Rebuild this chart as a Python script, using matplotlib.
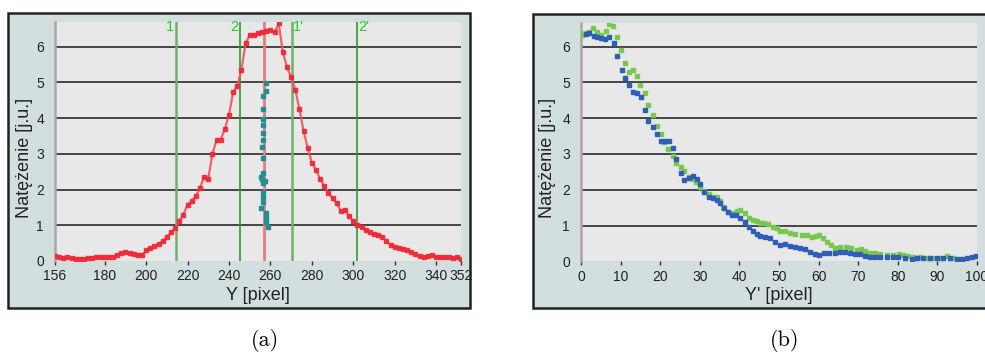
import matplotlib.pyplot as plt
from matplotlib.patches import Rectangle

# panel (a): red profile, read every 2 px
prof_x = list(range(156, 353, 2))
prof_y = [0.15, 0.12, 0.08, 0.10, 0.08, 0.06, 0.05, 0.06, 0.08, 0.08,
          0.10, 0.12, 0.12, 0.10, 0.12, 0.16, 0.22, 0.24, 0.22, 0.20,
          0.17, 0.16, 0.30, 0.36, 0.42, 0.47, 0.55, 0.68, 0.80, 0.92,
          1.12, 1.30, 1.58, 1.68, 1.82, 2.05, 2.36, 2.30, 3.00, 3.38,
          3.40, 3.70, 4.10, 4.72, 4.90, 5.35, 6.10, 6.32, 6.34, 6.37,
          6.40, 6.45, 6.47, 6.40, 6.65, 5.85, 5.42, 5.15, 4.80, 4.25,
          3.65, 3.16, 2.75, 2.55, 2.30, 2.10, 1.90, 1.75, 1.62, 1.40,
          1.43, 1.25, 1.12, 1.02, 0.95, 0.86, 0.80, 0.76, 0.72, 0.67,
          0.55, 0.45, 0.40, 0.36, 0.33, 0.30, 0.24, 0.20, 0.14, 0.10,
          0.14, 0.16, 0.11, 0.10, 0.10, 0.10, 0.09, 0.10, 0.05]

# teal points near the centre line
teal_x = [257.9, 257.8, 256.6, 256.6, 256.6, 256.6, 256.6, 256.3, 255.9, 256.3,
          256.6, 255.6, 255.7, 257.2, 256.3, 256.3, 256.6, 256.3, 255.6, 257.9,
          257.9, 257.9, 259.0]
teal_y = [4.98, 4.77, 4.63, 4.25, 3.98, 3.81, 3.58, 3.39, 3.20, 2.88,
          2.46, 2.36, 2.30, 2.25, 2.18, 1.94, 1.80, 1.66, 1.48, 1.34,
          1.20, 1.10, 0.94]

mark_pos = [214.5, 245.5, 270.5, 302]
mark_lbl = ["1", "2", "1'", "2'"]
center_pos = 257

xticks_a = [156, 180, 200, 220, 240, 260, 280, 300, 320, 340, 352]

# panel (b)
green_x = [0.2, 1.0, 2.0, 3.0, 4.1, 5.05, 6.2, 7.1, 8.0, 9.1, 10.0, 11.1, 12.0,
           13.2, 14.1, 15.0, 16.2, 17.0, 18.3, 19.1, 20.2, 21.0, 21.9, 23.2,
           24.0, 25.3, 26.1, 27.2, 28.2, 29.0, 30.1, 31.1, 32.3, 33.3, 34.3,
           35.1, 35.9, 37.2, 38.1, 39.3, 40.2, 41.4, 42.5, 43.5, 44.4, 45.3,
           46.2, 47.3, 48.6, 49.4, 50.3, 51.5, 52.8, 54.0, 55.7, 57.0, 58.3,
           59.3, 60.2, 61.0, 62.0, 63.1, 64.1, 65.4, 66.9, 68.2, 69.6, 70.6,
           71.7, 73.0, 74.2, 75.5, 77.2, 78.9, 80.4, 81.4, 82.7, 83.9, 85.6,
           87.3, 89.0, 90.7, 92.3, 94.0, 95.7]
green_y = [6.32, 6.37, 6.41, 6.51, 6.41, 6.32, 6.44, 6.62, 6.57, 6.26, 5.90,
           5.55, 5.28, 5.34, 5.18, 4.92, 4.69, 4.37, 4.09, 3.79, 3.56, 3.33,
           3.13, 2.94, 2.75, 2.64, 2.52, 2.36, 2.30, 2.23, 2.07, 1.96, 1.87,
           1.79, 1.80, 1.68, 1.51, 1.39, 1.34, 1.41, 1.42, 1.34, 1.21, 1.16,
           1.12, 1.06, 1.06, 1.04, 0.97, 0.92, 0.85, 0.85, 0.80, 0.76, 0.73,
           0.73, 0.69, 0.71, 0.73, 0.64, 0.55, 0.46, 0.38, 0.39, 0.39, 0.36,
           0.32, 0.33, 0.30, 0.24, 0.22, 0.20, 0.18, 0.17, 0.20, 0.18, 0.15,
           0.11, 0.13, 0.10, 0.08, 0.10, 0.15, 0.10, 0.07]

blue_x = [1.2, 2.1, 3.3, 4.1, 5.05, 6.1, 7.0, 8.3, 9.1, 10.3, 11.2, 12.0, 13.2,
          14.1, 15.2, 16.2, 17.0, 18.3, 19.1, 20.1, 21.2, 22.2, 23.2, 24.1,
          25.3, 26.1, 27.3, 28.2, 29.2, 30.1, 31.1, 32.3, 33.3, 34.3, 35.1,
          36.1, 37.1, 38.1, 39.1, 40.2, 41.4, 42.5, 43.5, 44.5, 45.3, 46.5,
          47.7, 49.0, 50.3, 51.5, 52.8, 54.0, 55.3, 56.6, 57.8, 59.1, 60.2,
          61.4, 62.7, 64.1, 65.4, 66.7, 67.9, 69.2, 70.5, 71.7, 73.0, 74.2,
          75.5, 77.2, 78.9, 80.1, 81.8, 83.5, 84.8, 86.4, 88.1, 89.8, 91.5,
          93.2, 94.9, 96.1, 97.4, 98.7, 99.8]
blue_y = [6.35, 6.39, 6.29, 6.26, 6.25, 6.21, 6.26, 6.09, 5.73, 5.34, 5.11,
          4.92, 4.74, 4.69, 4.60, 4.22, 3.93, 3.76, 3.56, 3.37, 3.37, 3.37,
          3.17, 2.85, 2.46, 2.27, 2.32, 2.39, 2.30, 2.16, 1.94, 1.80, 1.76,
          1.71, 1.62, 1.48, 1.38, 1.29, 1.29, 1.20, 1.10, 0.95, 0.86, 0.77,
          0.72, 0.69, 0.64, 0.55, 0.46, 0.48, 0.43, 0.39, 0.38, 0.33, 0.27,
          0.20, 0.18, 0.22, 0.22, 0.22, 0.25, 0.25, 0.24, 0.20, 0.20, 0.15,
          0.13, 0.11, 0.11, 0.13, 0.13, 0.13, 0.10, 0.06, 0.10, 0.08, 0.08,
          0.08, 0.10, 0.08, 0.06, 0.06, 0.10, 0.13, 0.16]
xticks_b = list(range(0, 101, 10))

plt.rcParams['font.family'] = ['Liberation Sans', 'DejaVu Sans']

W, H = 985, 353
fig = plt.figure(figsize=(W / 100, H / 100), dpi=100)

frame_bg = '#D3DEDE'
fig.patches.append(Rectangle((8 / W, 1 - 308 / H), 462 / W, 295 / H,
                             transform=fig.transFigure, facecolor=frame_bg,
                             edgecolor='#222222', lw=1.8, zorder=-10))
fig.patches.append(Rectangle((533 / W, 1 - 308 / H), 460 / W, 294 / H,
                             transform=fig.transFigure, facecolor=frame_bg,
                             edgecolor='#222222', lw=1.8, zorder=-10))


def style(ax, xt, xl, left_px, top_px, w_px, h_px, ylab_px):
    ax.set_facecolor('#E8E8E8')
    for s in ['top', 'right', 'bottom']:
        ax.spines[s].set_visible(False)
    ax.spines['left'].set_color('#A8A8A8')
    ax.spines['left'].set_linewidth(1.8)
    ax.set_yticks(range(0, 7))
    ax.set_xticks(xt)
    ax.tick_params(axis='y', length=0, pad=8, labelsize=10, labelcolor='#222222')
    ax.tick_params(axis='x', length=3, width=1, color='#333333', pad=3,
                   labelsize=10, labelcolor='#222222')
    for v in range(1, 7):
        ax.axhline(v, color='#3A3A3A', lw=1.3, zorder=1)
    ax.set_xlabel(xl, fontsize=13, color='#222222')
    ax.set_ylabel('Natężenie [j.u.]', fontsize=13, color='#222222')
    # label positions as in the reference (centred on the frame)
    ax.yaxis.set_label_coords((ylab_px - left_px) / w_px,
                              (top_px + h_px - 158) / h_px)
    ax.xaxis.set_label_coords(0.5, (top_px + h_px - 296) / h_px)
    ax.xaxis.label.set_va('center')
    ax.yaxis.label.set_va('center')


# (a)
ax1 = fig.add_axes([55 / W, 1 - 261 / H, 406 / W, 239 / H])
style(ax1, xticks_a, 'Y [pixel]', 55, 22, 406, 239, 25)
ax1.set_xlim(156, 352)
ax1.set_ylim(0, 6.69)
for i, (p, t) in enumerate(zip(mark_pos, mark_lbl)):
    if i % 2 == 0:
        ax1.axvline(p, color='#6FAF6F', lw=1.8, zorder=2)
    else:
        ax1.axvline(p, color='#2E9A2E', lw=1.2, zorder=2)
    if t in ("1", "2"):
        ax1.text(p - 1, 6.55, t, color='#22CC22', fontsize=10.5, ha='right', va='center')
    else:
        ax1.text(p + 0.5, 6.55, t, color='#22CC22', fontsize=10.5, ha='left', va='center')
ax1.axvline(center_pos, color='#F07878', lw=2, zorder=2)
ax1.plot(prof_x, prof_y, color='#F05060', lw=1.6, alpha=0.9, zorder=3,
         marker='s', ms=3, mfc='#F02835', mec='#F02835')
ax1.plot(teal_x, teal_y, ls='none', marker='s', ms=3.2, color='#229090', zorder=4)

# (b)
ax2 = fig.add_axes([581 / W, 1 - 261.3 / H, 396 / W, 238.3 / H])
style(ax2, xticks_b, "Y' [pixel]", 581, 23, 396, 238.3, 548)
ax2.set_xlim(0, 100)
ax2.set_ylim(0, 6.66)
ax2.plot(green_x, green_y, ls='none', marker='s', ms=3.2, color='#78C850', zorder=3)
ax2.plot(blue_x, blue_y, ls='none', marker='s', ms=3.2, color='#2E5FB5', zorder=3)

fig.text(265 / W, 1 - 340 / H, '(a)', family='cmr10', fontsize=16, ha='center', va='center')
fig.text(785 / W, 1 - 340 / H, '(b)', family='cmr10', fontsize=16, ha='center', va='center')

fig.savefig('out.png', dpi=100)
